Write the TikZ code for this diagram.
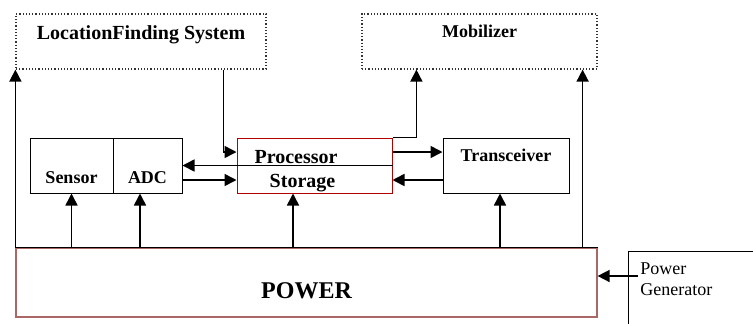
\documentclass[tikz,border=0pt]{standalone}
\usepackage{fontspec}
\setmainfont{Liberation Serif}
\usetikzlibrary{arrows.meta}

\begin{document}
\begin{tikzpicture}[x=0.5pt, y=-0.5pt,
    every node/.style={inner sep=0pt, font=\bfseries\fontsize{9}{11}\selectfont},
    dotbox/.style={draw=black!80, densely dotted, line width=0.6pt},
    blockbox/.style={draw, line width=0.5pt, minimum height=27.5pt},
    redbox/.style={draw=red!70!black, line width=0.5pt},
    conn/.style={-{Triangle[length=6pt,width=6pt]}, line width=0.8pt}]
                \useasboundingbox (0,0) rectangle (753,323);
                \node[dotbox, minimum width=125pt, text height=12.5pt, text depth=15pt, font=\bfseries\fontsize{10}{12}\selectfont] (lfs) at (141,41.5) {LocationFinding System};
                \node[dotbox, minimum width=117.5pt, text height=11.5pt, text depth=16pt] (mob) at (479.5,41.5) {Mobilizer};
                \node[blockbox, minimum width=41.5pt, text height=22.5pt, text depth=5pt] (sensor) at (71.5,165.5) {Sensor};
                \node[blockbox, minimum width=34.5pt, text height=22.5pt, text depth=5pt] (adc) at (147.5,165.5) {ADC};
                \node[redbox, minimum width=77.5pt, minimum height=27.5pt] (procbox) at (314.5,165.5) {};
                \node[anchor=base, font=\bfseries\fontsize{10}{12}\selectfont] (proc) at (296,163) {Processor};
                \node[anchor=base, font=\bfseries\fontsize{10}{12}\selectfont] (stor) at (302.5,187) {Storage};
                \node[blockbox, minimum width=63pt, text height=11.5pt, text depth=16pt] (trans) at (506,165.5) {Transceiver};
                \node[draw=red!45!black!60, line width=0.6pt, minimum width=290.5pt, text height=25pt, text depth=9.5pt, font=\bfseries\fontsize{12}{14}\selectfont] (power) at (306.5,282.5) {POWER};
                \draw[line width=0.5pt] (power.north west) -- (power.north east);
                \node[draw, line width=0.5pt, anchor=north west, minimum width=100pt, minimum height=50pt] (pg) at (628,251) {};
                \node[anchor=base west, align=left, font=\fontsize{9}{10.5}\selectfont] (pgl) at (640,295) {Power\\Generator};
                \coordinate (pgin) at (638,276);
                \coordinate (adcin) at ([xshift=-3.75pt]adc.south);
                \coordinate (procin) at ([xshift=-10.75pt]procbox.south);
                \coordinate (transin) at ([xshift=-3pt]trans.south);
                \draw[conn] (power.north west) -- (lfs.south west);
                \draw[conn] ([xshift=-7.5pt]power.north east) -- ([xshift=-7.5pt]mob.south east);
                \draw[conn] (sensor.south |- power.north) -- (sensor.south);
                \draw[conn] (adcin |- power.north) -- (adcin);
                \draw[conn] (procin |- power.north) -- (procin);
                \draw[conn] (transin |- power.north) -- (transin);
                \draw[conn] ([yshift=-7.25pt]adc.east) -- ([yshift=-7.25pt]procbox.west);
                \draw[conn] (procbox.east) -- (adc.east);
                \draw[conn] ([xshift=-21.5pt]lfs.south east) |- ([yshift=6.75pt]procbox.west);
                \draw[conn] (procbox.north east) -| ([xshift=27.5pt]mob.south west);
                \draw[conn] ([yshift=6.75pt]procbox.east) -- ([yshift=6.75pt]trans.west);
                \draw[conn] ([yshift=-7.25pt]trans.west) -- ([yshift=-7.25pt]procbox.east);
                \draw[conn] (pgin) -- (pgin -| power.east);
            \end{tikzpicture}
\end{document}
